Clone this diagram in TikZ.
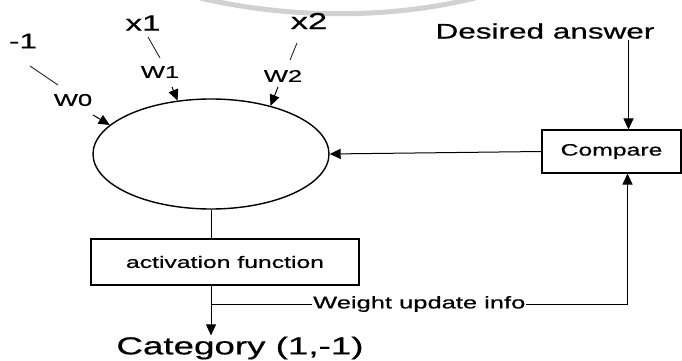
\documentclass[tikz,border=0pt]{standalone}
\usepackage{fontspec}
\newfontfamily\scanfont[FakeStretch=1.5,FakeBold=0.6]{Liberation Sans}
\usetikzlibrary{arrows.meta,shapes.geometric}

\begin{document}
\begin{tikzpicture}[x=1pt, y=-1pt,
  cell/.style={ellipse, draw=black, line width=1.4pt, minimum width=236pt, minimum height=110pt, inner sep=0pt},
  box/.style={rectangle, draw=black, line width=1.1pt, inner sep=0pt, font=\scanfont\fontsize{16.5}{19}\selectfont},
  lbl/.style={inner sep=1pt, font=\scanfont\fontsize{17}{19}\selectfont},
  big/.style={inner sep=1pt, font=\scanfont\fontsize{21}{25}\selectfont},
  wire/.style={line width=1pt},
  tick/.style={line width=0.9pt, black!85},
  arrow/.style={-{Triangle[length=11pt,width=10pt]}, line width=1pt}
]
\useasboundingbox (0,0) rectangle (682,361);

% faint arc along the top edge
\draw[black!18, line width=5pt] (200,-2) .. controls (290,19) and (390,19) .. (475,-2);

% summing unit
\node[cell] (neuron) at (211,154) {};

% inputs and their weights
\node[big] (in0) at (23,41) {-1};
\node[lbl] (w0) at (73,100) {W0};
\node[big, font=\scanfont\fontsize{22}{25}\selectfont] (x1) at (143,23) {x1};
\node[lbl] (w1) at (160,72) {W1};
\node[big, font=\scanfont\fontsize{23}{25}\selectfont] (x2) at (309,21) {x2};
\node[lbl] (w2) at (283,76) {W2};

\coordinate (s0) at (30,66);  \coordinate (e0) at (58,85);  \coordinate (t0) at (93,115);
\coordinate (s1) at (148,37); \coordinate (e1) at (160,58); \coordinate (t1) at (172,87);
\coordinate (s2) at (297,43); \coordinate (e2) at (290,60); \coordinate (t2) at (278,87);

\draw[tick] (s0) -- (e0);
\draw[tick] (s1) -- (e1);
\draw[tick] (s2) -- (e2);
\draw[arrow] (t0) -- (neuron.164);
\draw[arrow] (t1) -- (neuron.122);
\draw[arrow] (t2) -- (neuron.39);

% teacher side
\node[big] (desired) at (545,31) {Desired answer};
\node[box, minimum width=139pt, minimum height=43pt] (compare) at (611.5,151.5) {Compare};
\coordinate (cmptop) at ([xshift=17pt]compare.north);
\coordinate (cmpbot) at ([xshift=16pt]compare.south);

% output side
\node[box, minimum width=268pt, minimum height=46pt] (act) at (225,262) {activation function};
\node[inner sep=1pt, font=\scanfont\fontsize{24.5}{28}\selectfont] (cat) at (240,348) {Category (1,-1)};
\coordinate (fork) at (211,304);

% Connections
\draw[arrow] (desired.south -| cmptop) -- (cmptop);
\draw[arrow] (compare.west) -- (neuron.east);
\draw[wire] (neuron.south) -- (neuron.south |- act.north);
\draw[arrow] (neuron.south |- act.south) -- (cat.north -| neuron.south);
\draw[arrow] (fork) -- node[fill=white, inner sep=1pt, font=\scanfont\fontsize{17}{19}\selectfont] {Weight update info} (fork -| cmpbot) -- (cmpbot);

\end{tikzpicture}
\end{document}
